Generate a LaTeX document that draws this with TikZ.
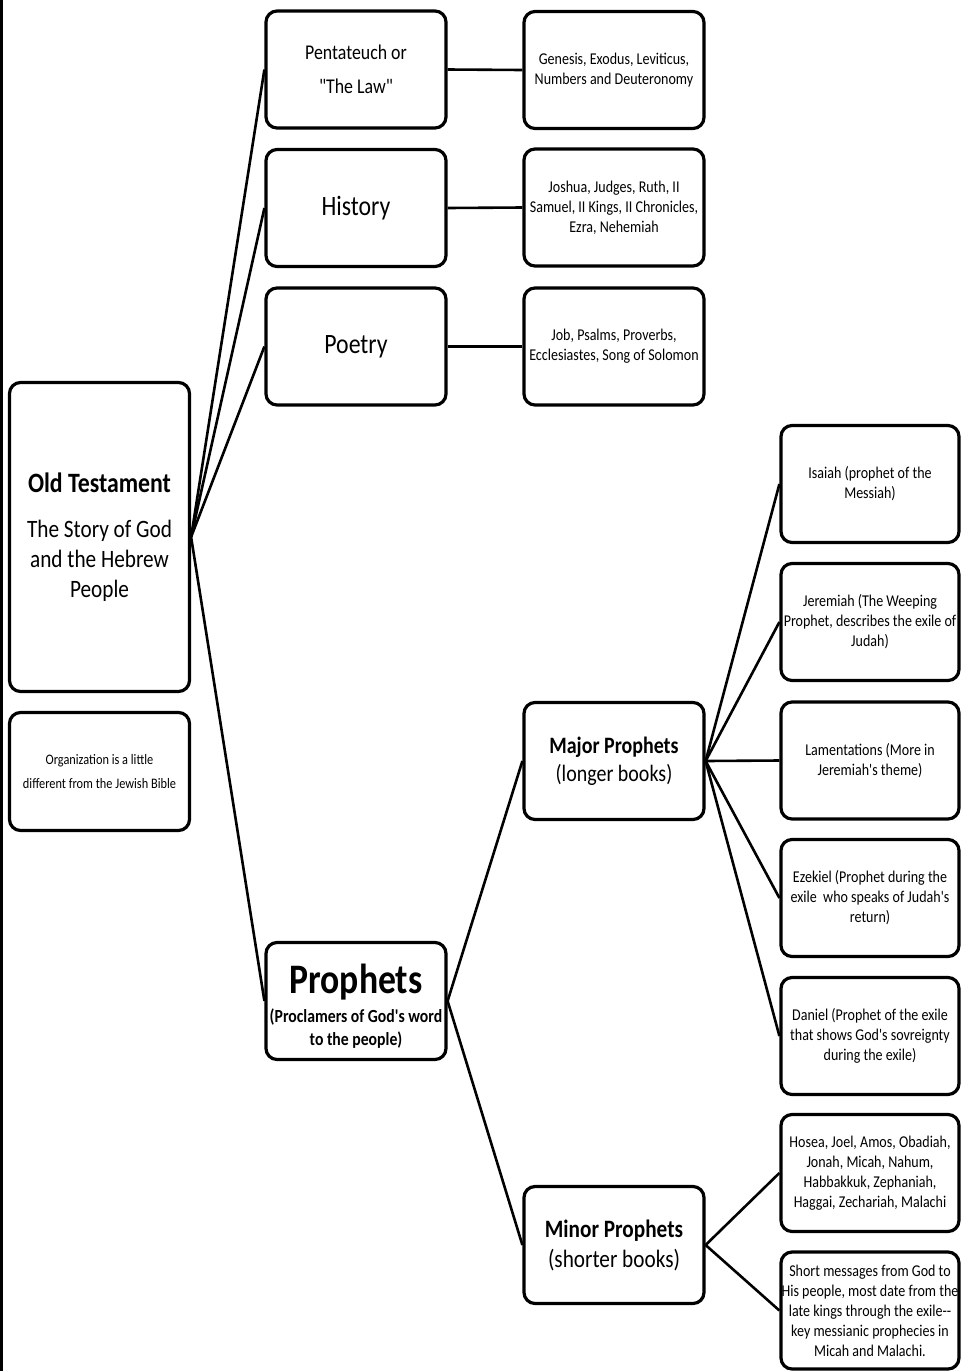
\documentclass[tikz,border=0pt]{standalone}
\usepackage{fontspec}
\setmainfont[FakeStretch=0.85,Ligatures=TeXOff]{Carlito}
\newcommand{\fs}[2]{\fontsize{#1}{#2}\selectfont}
\begin{document}
\begin{tikzpicture}[x=1pt,y=-1pt,
  box/.style={draw=black, line width=3.2pt, rounded corners=11pt, fill=white,
    inner sep=0pt, align=center, text=black},
  big/.style={box, minimum width=180pt, minimum height=117pt},
  rbox/.style={big, minimum width=178pt, font=\fs{16.5}{20}},
  link/.style={draw=black, line width=2.6pt}]
\useasboundingbox (0,0) rectangle (961,1371);
\fill[white] (0,0) rectangle (961,1371);
\draw[line width=3pt] (1.5,0) -- (1.5,1371);

% left column
\node[box, minimum width=180pt, minimum height=309pt, font=\fs{25}{30}] (ot) at (99.5,537)
  {\fs{28}{30}\bfseries Old Testament\\[15pt]
   The Story of God\\and the Hebrew\\People};
\node[box, minimum width=180pt, minimum height=118pt, font=\fs{14.5}{24}] (org) at (99.5,771.5)
  {Organization is a little\\different from the Jewish Bible};

% second column
\node[big, font=\fs{21}{34}] (pent) at (356,69.5)
  {Pentateuch or\\"The Law"};
\node[big, font=\fs{28}{32}] (hist) at (356,208) {History};
\node[big, font=\fs{28}{32}] (poet) at (356,346.5) {Poetry};
\node[big, minimum height=117pt, text depth=0pt] (proph) at (356,1001) {};
\node[align=center, inner sep=0pt, font=\bfseries\fs{18.5}{23}] (prophtxt) at (356,1006)
  {\fs{42}{40}Prophets\\[6pt]
   (Proclamers of God's word\\to the people)};

% third column
\node[big, font=\fs{16.5}{20}] (gen) at (614,70)
  {Genesis, Exodus, Leviticus,\\Numbers and Deuteronomy};
\node[big, font=\fs{16.5}{20}] (josh) at (614,207.5)
  {Joshua, Judges, Ruth, II\\Samuel, II Kings, II Chronicles,\\Ezra, Nehemiah};
\node[big, font=\fs{16.5}{20}] (job) at (614,346.5)
  {Job, Psalms, Proverbs,\\Ecclesiastes, Song of Solomon};
\node[big, font=\fs{23.5}{28}] (major) at (614,761)
  {\bfseries Major Prophets\\(longer books)};
\node[big, font=\fs{25}{30}] (minor) at (614,1245)
  {\bfseries Minor Prophets\\(shorter books)};

% fourth column
\node[rbox] (isa) at (870,484)
  {Isaiah (prophet of the\\Messiah)};
\node[rbox] (jer) at (870,622)
  {Jeremiah (The Weeping\\Prophet, describes the exile of\\Judah)};
\node[rbox] (lam) at (870,760.5)
  {Lamentations (More in\\Jeremiah's theme)};
\node[rbox] (eze) at (870,898)
  {Ezekiel (Prophet during the\\exile\ \ who speaks of Judah's\\return)};
\node[rbox] (dan) at (870,1036)
  {Daniel (Prophet of the exile\\that shows God's sovreignty\\during the exile)};
\node[rbox] (hos) at (870,1173)
  {Hosea, Joel, Amos, Obadiah,\\Jonah, Micah, Nahum,\\Habbakkuk, Zephaniah,\\Haggai, Zechariah, Malachi};
\node[rbox] (short) at (870,1310.5)
  {Short messages from God to\\His people, most date from the\\late kings through the exile--\\key messianic prophecies in\\Micah and Malachi.};

% connectors
\draw[link] (ot.east) -- (pent.west);
\draw[link] (ot.east) -- (hist.west);
\draw[link] (ot.east) -- (poet.west);
\draw[link] (ot.east) -- (proph.west);
\draw[link] (pent.east) -- (gen.west);
\draw[link] (hist.east) -- (josh.west);
\draw[link] (poet.east) -- (job.west);
\draw[link] (proph.east) -- (major.west);
\draw[link] (proph.east) -- (minor.west);
\draw[link] (major.east) -- (isa.west);
\draw[link] (major.east) -- (jer.west);
\draw[link] (major.east) -- (lam.west);
\draw[link] (major.east) -- (eze.west);
\draw[link] (major.east) -- (dan.west);
\draw[link] (minor.east) -- (hos.west);
\draw[link] (minor.east) -- (short.west);
\end{tikzpicture}
\end{document}
